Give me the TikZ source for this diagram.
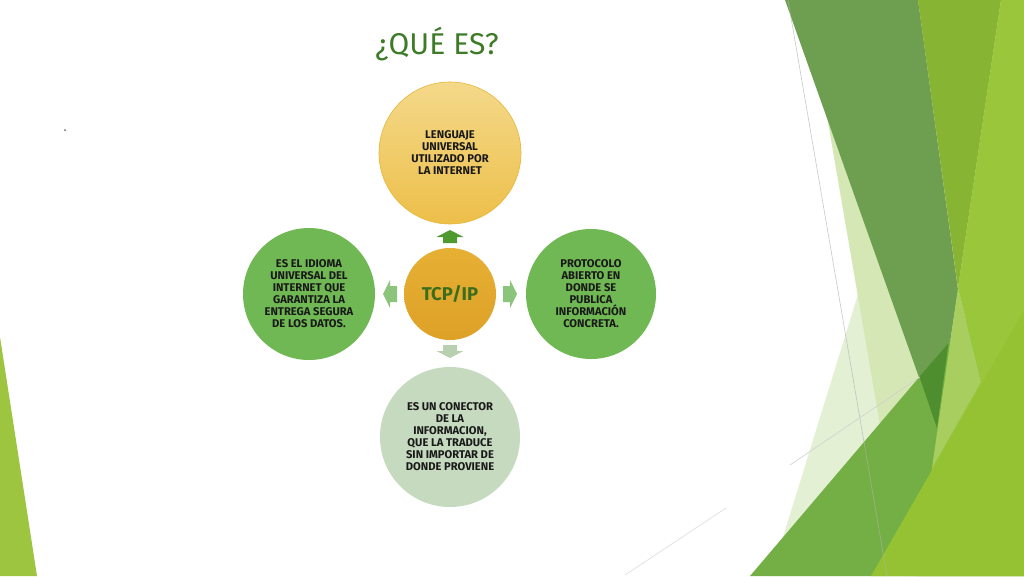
\documentclass[tikz,border=0pt]{standalone}
\usepackage{fontspec}
\setmainfont{Fira Sans}
\definecolor{ttl}{HTML}{3E7B27}
\definecolor{tcp}{HTML}{3B6E1C}
\definecolor{gdark}{HTML}{6E9E50}
\definecolor{gyel}{HTML}{88B434}
\definecolor{glight}{HTML}{9AC63C}
\definecolor{glr}{HTML}{A8CE60}
\definecolor{gmed}{HTML}{74AF45}
\definecolor{gpatch}{HTML}{4F8E2F}
\definecolor{gbr}{HTML}{94C232}
\definecolor{paleA}{HTML}{D4E7B4}
\definecolor{paleE}{HTML}{E4F0D4}
\definecolor{sliver}{HTML}{9DC53F}
\definecolor{circg}{HTML}{6FB853}
\definecolor{circb}{HTML}{C5DABE}
\definecolor{goldtop}{HTML}{F4D98A}
\definecolor{goldbot}{HTML}{EDBF4A}
\definecolor{goldrim}{HTML}{E6B634}
\definecolor{tcptop}{HTML}{E6B035}
\definecolor{tcpbot}{HTML}{DDA126}
\definecolor{arrdark}{HTML}{4E9A2E}
\definecolor{arrmid}{HTML}{8CC47C}
\definecolor{arrlite}{HTML}{B8D0B0}
\tikzset{
  bubble/.style={circle, inner sep=0pt, align=center, text=black!90,
    font=\bfseries\fontsize{11.2}{12}\selectfont},
  greenbub/.style={bubble, fill=circg},
}
\begin{document}
\begin{tikzpicture}[x=1pt,y=-1pt]
\path[use as bounding box, fill=white] (0,0) rectangle (1024,576);

% left sliver
\fill[sliver] (0,337) -- (37,576) -- (0,576) -- cycle;

% right decorative facets
\fill[paleE] (949,0) -- (1024,0) -- (1024,576) -- (771,576) -- cycle;
\fill[paleA] (807,0) -- (1024,0) -- (1024,576) -- (906,576) -- cycle;
\fill[gdark] (785,0) -- (918,0) -- (958,290) -- (937,428) -- cycle;
\fill[gyel] (918,0) -- (1001,0) -- (958,288) -- cycle;
\fill[gmed] (750,576) -- (1024,254) -- (1024,576) -- cycle;
\fill[gpatch] (919.4,376.7) -- (948.5,343) -- (937,428) -- cycle;
\fill[glight] (1001,0) -- (1024,0) -- (1024,576) -- (916,576) -- (932,468) -- (981,382) -- (958,288) -- cycle;
\fill[glr] (958,288) -- (981,382) -- (932,468) -- cycle;
\fill[gbr] (871,576) -- (1024,310) -- (1024,576) -- cycle;
\draw[black!30, line width=0.6pt, opacity=0.7] (788,0) -- (887,576);
\draw[black!18, line width=0.6pt] (790,465) -- (920,377);
\draw[black!12, line width=0.7pt] (625,575) -- (726,508);

% stray dot
\fill[black!60] (65,130) circle (1);

% title
\node[text=ttl, font=\fontsize{30}{34}\selectfont] (title) at (437,44) {¿QUÉ ES?};

% circles
\node[bubble, minimum size=142pt, top color=goldtop, bottom color=goldbot, draw=goldrim, line width=0.6pt] (top) at (450,153)
  {LENGUAJE\\UNIVERSAL\\UTILIZADO POR\\LA INTERNET};
\node[greenbub, minimum size=132pt] (left) at (309,294)
  {ES EL IDIOMA\\UNIVERSAL DEL\\INTERNET QUE\\GARANTIZA LA\\ENTREGA SEGURA\\DE LOS DATOS.};
\node[greenbub, minimum size=130pt] (right) at (591,294)
  {PROTOCOLO\\ABIERTO EN\\DONDE SE\\PUBLICA\\INFORMACIÓN\\CONCRETA.};
\node[bubble, fill=circb, minimum size=140pt] (bottom) at (450,437)
  {ES UN CONECTOR\\DE LA\\INFORMACION,\\QUE LA TRADUCE\\SIN IMPORTAR DE\\DONDE PROVIENE};
\node[circle, minimum size=92pt, inner sep=0pt, top color=tcptop, bottom color=tcpbot,
  text=tcp, font=\bfseries\fontsize{18.5}{20}\selectfont] (tcp) at (450,294) {TCP/IP};

% block arrows
\coordinate (aup) at (450,237);
\coordinate (adown) at (450,351);
\coordinate (aleft) at (390,294);
\coordinate (aright) at (510,294);
\fill[arrdark, shift={(aup)}] (-7,6) -- (7,6) -- (7,0) -- (13.5,0) -- (0,-7) -- (-13.5,0) -- (-7,0) -- cycle;
\fill[arrlite, shift={(adown)}] (-7,-6) -- (7,-6) -- (7,0) -- (13.5,0) -- (0,7) -- (-13.5,0) -- (-7,0) -- cycle;
\fill[arrmid, shift={(aright)}] (-7,-8) -- (0,-8) -- (0,-14) -- (7,0) -- (0,14) -- (0,8) -- (-7,8) -- cycle;
\fill[arrmid, shift={(aleft)}] (7,-8) -- (0,-8) -- (0,-14) -- (-7,0) -- (0,14) -- (0,8) -- (7,8) -- cycle;
\end{tikzpicture}
\end{document}
